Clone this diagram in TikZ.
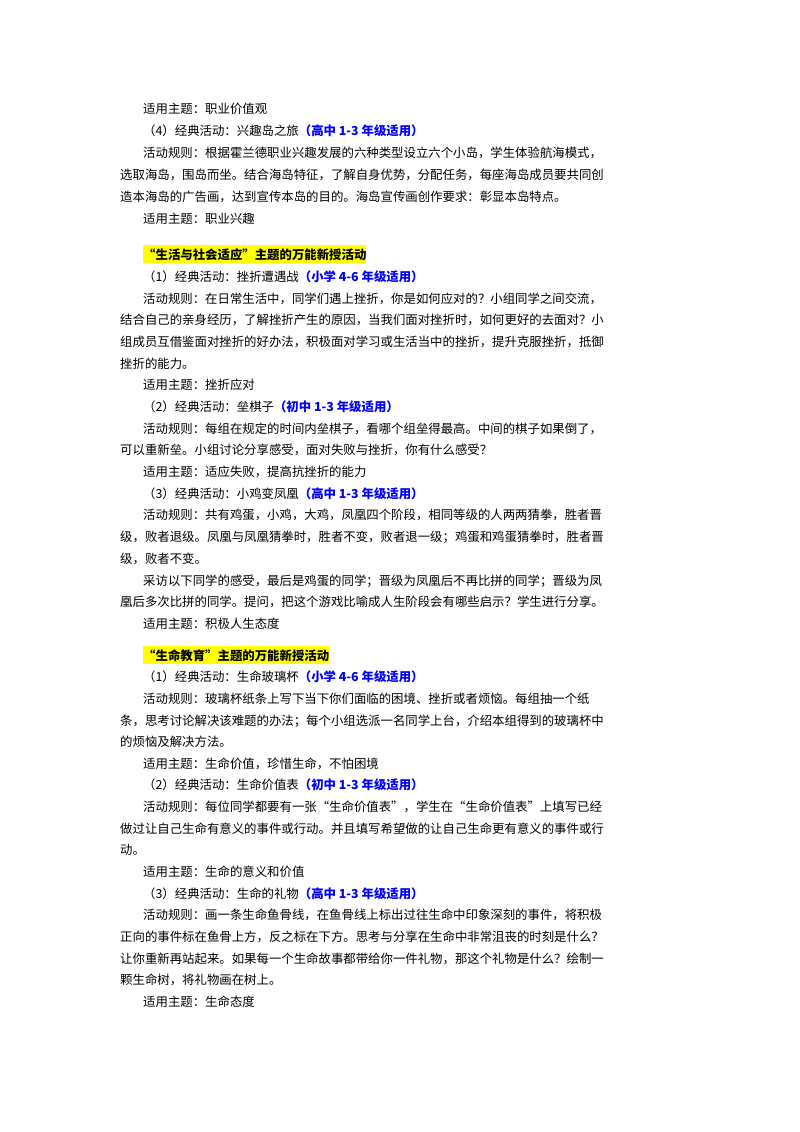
\documentclass[tikz,border=0pt]{standalone}
\usepackage{fontspec}
\setmainfont{Noto Sans CJK SC}
\definecolor{hlblue}{RGB}{0,0,255}
\definecolor{hlyellow}{RGB}{255,255,0}
\newcommand\tline[4]{\node[txt] (#1) at (#2pt,-#3pt) {#4};}
\newcommand\blu[1]{{\bfseries\color{hlblue}#1}}
\begin{document}
\begin{tikzpicture}[x=1pt,y=1pt,
  txt/.style={anchor=base west,inner sep=0pt,font=\fontsize{12.4}{14}\selectfont},
  hdr/.style={anchor=base west,inner xsep=0pt,inner ysep=3pt,fill=hlyellow,font=\fontsize{12.4}{14}\selectfont\bfseries}]
\useasboundingbox[fill=white] (0,0) rectangle (800,-1132);
\tline{a1}{143}{113}{适用主题：职业价值观}
\tline{a2}{143}{135}{（4）经典活动：兴趣岛之旅\blu{（高中 1-3 年级适用）}}
\tline{a3}{143}{157}{活动规则：根据霍兰德职业兴趣发展的六种类型设立六个小岛，学生体验航海模式，}
\tline{a4}{120}{179}{选取海岛，围岛而坐。结合海岛特征，了解自身优势，分配任务，每座海岛成员要共同创}
\tline{a5}{120}{201}{造本海岛的广告画，达到宣传本岛的目的。海岛宣传画创作要求：彰显本岛特点。}
\tline{a6}{143}{223}{适用主题：职业兴趣}
\node[hdr] (h1) at (143,-259) {“生活与社会适应”主题的万能新授活动};
\tline{b1}{143}{281}{（1）经典活动：挫折遭遇战\blu{（小学 4-6 年级适用）}}
\tline{b2}{143}{303}{活动规则：在日常生活中，同学们遇上挫折，你是如何应对的？小组同学之间交流，}
\tline{b3}{120}{324}{结合自己的亲身经历，了解挫折产生的原因，当我们面对挫折时，如何更好的去面对？小}
\tline{b4}{120}{346}{组成员互借鉴面对挫折的好办法，积极面对学习或生活当中的挫折，提升克服挫折，抵御}
\tline{b5}{120}{368}{挫折的能力。}
\tline{b6}{143}{389}{适用主题：挫折应对}
\tline{b7}{143}{411}{（2）经典活动：垒棋子\blu{（初中 1-3 年级适用）}}
\tline{b8}{143}{433}{活动规则：每组在规定的时间内垒棋子，看哪个组垒得最高。中间的棋子如果倒了，}
\tline{b9}{120}{454}{可以重新垒。小组讨论分享感受，面对失败与挫折，你有什么感受？}
\tline{b10}{143}{476}{适用主题：适应失败，提高抗挫折的能力}
\tline{b11}{143}{498}{（3）经典活动：小鸡变凤凰\blu{（高中 1-3 年级适用）}}
\tline{b12}{143}{519}{活动规则：共有鸡蛋，小鸡，大鸡，凤凰四个阶段，相同等级的人两两猜拳，胜者晋}
\tline{b13}{120}{541}{级，败者退级。凤凰与凤凰猜拳时，胜者不变，败者退一级；鸡蛋和鸡蛋猜拳时，胜者晋}
\tline{b14}{120}{563}{级，败者不变。}
\tline{b15}{143}{585}{采访以下同学的感受，最后是鸡蛋的同学；晋级为凤凰后不再比拼的同学；晋级为凤}
\tline{b16}{120}{606}{凰后多次比拼的同学。提问，把这个游戏比喻成人生阶段会有哪些启示？学生进行分享。}
\tline{b17}{143}{628}{适用主题：积极人生态度}
\node[hdr] (h2) at (143,-660) {“生命教育”主题的万能新授活动};
\tline{c1}{143}{681}{（1）经典活动：生命玻璃杯\blu{（小学 4-6 年级适用）}}
\tline{c2}{143}{703}{活动规则：玻璃杯纸条上写下当下你们面临的困境、挫折或者烦恼。每组抽一个纸}
\tline{c3}{120}{725}{条，思考讨论解决该难题的办法；每个小组选派一名同学上台，介绍本组得到的玻璃杯中}
\tline{c4}{120}{746}{的烦恼及解决方法。}
\tline{c5}{143}{768}{适用主题：生命价值，珍惜生命，不怕困境}
\tline{c6}{143}{789}{（2）经典活动：生命价值表\blu{（初中 1-3 年级适用）}}
\tline{c7}{143}{811}{活动规则：每位同学都要有一张“生命价值表”，学生在“生命价值表”上填写已经}
\tline{c8}{120}{833}{做过让自己生命有意义的事件或行动。并且填写希望做的让自己生命更有意义的事件或行}
\tline{c9}{120}{854}{动。}
\tline{c10}{143}{876}{适用主题：生命的意义和价值}
\tline{c11}{143}{898}{（3）经典活动：生命的礼物\blu{（高中 1-3 年级适用）}}
\tline{c12}{143}{919}{活动规则：画一条生命鱼骨线，在鱼骨线上标出过往生命中印象深刻的事件，将积极}
\tline{c13}{120}{941}{正向的事件标在鱼骨上方，反之标在下方。思考与分享在生命中非常沮丧的时刻是什么？}
\tline{c14}{120}{963}{让你重新再站起来。如果每一个生命故事都带给你一件礼物，那这个礼物是什么？绘制一}
\tline{c15}{120}{984}{颗生命树，将礼物画在树上。}
\tline{c16}{143}{1006}{适用主题：生命态度}
\end{tikzpicture}
\end{document}
